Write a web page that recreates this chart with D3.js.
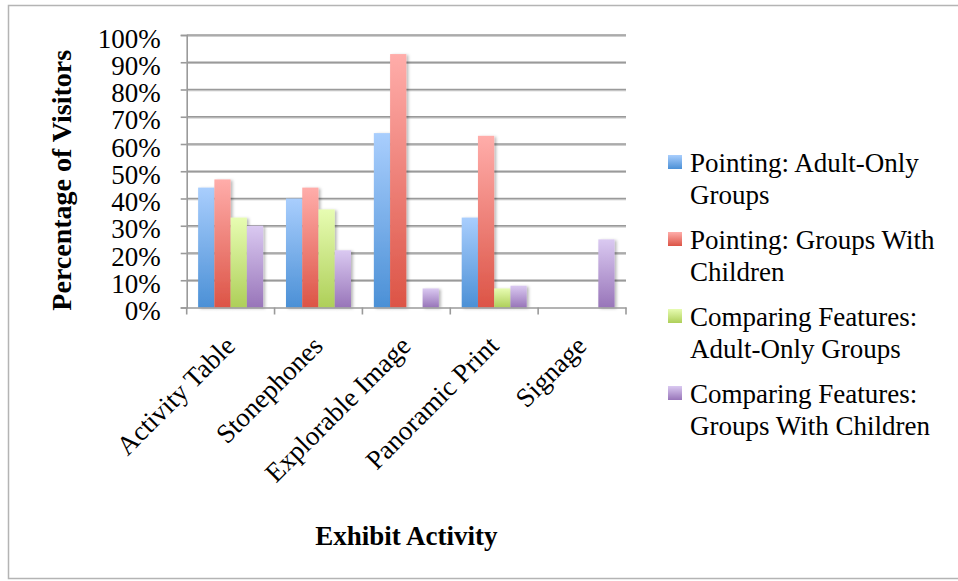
<!DOCTYPE html>
<html>
<head>
<meta charset="utf-8">
<script src="https://cdn.jsdelivr.net/npm/d3@7/dist/d3.min.js"></script>
<style>
  body { margin: 0; background: #fff; }
  svg { display: block; }
  text { font-family: "Liberation Serif", "DejaVu Serif", serif; fill: #000; }
</style>
</head>
<body>
<svg id="chart" width="958" height="581"></svg>
<script>
// Exhibit activities along the x axis
const categories = ["Activity Table", "Stonephones", "Explorable Image", "Panoramic Print", "Signage"];

// Share of visitors per activity, one array per series
const pointingAdultOnly   = [0.44, 0.40, 0.64, 0.33, 0];
const pointingWithKids    = [0.47, 0.44, 0.93, 0.63, 0];
const comparingAdultOnly  = [0.33, 0.36, 0,    0.07, 0];
const comparingWithKids   = [0.30, 0.21, 0.07, 0.08, 0.25];

// Legend entries (each wrapped onto two lines)
const seriesLabels = [
  ["Pointing: Adult-Only", "Groups"],
  ["Pointing: Groups With", "Children"],
  ["Comparing Features:", "Adult-Only Groups"],
  ["Comparing Features:", "Groups With Children"]
];

// Top and bottom colours of each series' gradient
const seriesTop    = ["#a9cefd", "#ffadaa", "#e7fcb2", "#dac9f1"];
const seriesBottom = ["#4b90d6", "#dc5446", "#aecf59", "#9875b9"];

const yTicks = [0, 0.1, 0.2, 0.3, 0.4, 0.5, 0.6, 0.7, 0.8, 0.9, 1.0];

const yTitle = "Percentage of Visitors";
const xTitle = "Exhibit Activity";

const series = [pointingAdultOnly, pointingWithKids, comparingAdultOnly, comparingWithKids];

const svg = d3.select("#chart");
const plot = { left: 186.7, right: 626, top: 35, bottom: 307.5 };

const x = d3.scaleBand().domain(categories).range([plot.left, plot.right]);
const x1 = d3.scaleBand().domain(d3.range(series.length))
  .range([x.bandwidth() * 0.13, x.bandwidth() * 0.87]);
const y = d3.scaleLinear().domain([0, 1]).range([plot.bottom, plot.top]);

const defs = svg.append("defs");
series.forEach((_, i) => {
  const g = defs.append("linearGradient")
    .attr("id", "grad" + i).attr("x1", 0).attr("y1", 0).attr("x2", 0).attr("y2", 1);
  g.append("stop").attr("offset", "0%").attr("stop-color", seriesTop[i]);
  g.append("stop").attr("offset", "100%").attr("stop-color", seriesBottom[i]);
});
const shadow = defs.append("filter").attr("id", "shadow")
  .attr("x", "-20%").attr("y", "-10%").attr("width", "160%").attr("height", "130%");
shadow.append("feDropShadow").attr("dx", 2).attr("dy", 1)
  .attr("stdDeviation", 1.8).attr("flood-color", "#000").attr("flood-opacity", 0.28);
const lineShadow = defs.append("filter").attr("id", "lineShadow")
  .attr("x", "-5%").attr("y", "-200%").attr("width", "110%").attr("height", "500%");
lineShadow.append("feDropShadow").attr("dx", 0).attr("dy", 1)
  .attr("stdDeviation", 0.6).attr("flood-color", "#000").attr("flood-opacity", 0.25);

// Outer frame
svg.append("rect")
  .attr("x", 8.5).attr("y", 5.5).attr("width", 960).attr("height", 573)
  .attr("fill", "none").attr("stroke", "#b4b4b4").attr("stroke-width", 1.5);

// Horizontal gridlines
svg.append("g").attr("filter", "url(#lineShadow)")
  .selectAll("line").data(yTicks.slice(1)).join("line")
  .attr("x1", plot.left).attr("x2", plot.right)
  .attr("y1", d => y(d)).attr("y2", d => y(d))
  .attr("stroke", "#9a9a9a").attr("stroke-width", 1.6);

// Y axis
const yAxis = svg.append("g").attr("transform", `translate(${plot.left},0)`)
  .call(d3.axisLeft(y).tickValues(yTicks).tickFormat(d3.format(".0%"))
    .tickSize(6).tickPadding(20));
yAxis.select(".domain").attr("stroke", "#9a9a9a").attr("stroke-width", 1.6);
yAxis.selectAll(".tick line").attr("stroke", "#9a9a9a").attr("stroke-width", 1.6);
yAxis.selectAll(".tick text")
  .attr("dy", "12px").attr("font-size", 27).attr("font-family", null).attr("fill", "#000");

// Bars
const groups = svg.append("g").selectAll("g").data(categories).join("g")
  .attr("transform", d => `translate(${x(d)},0)`);
groups.selectAll("rect")
  .data((c, ci) => series.map((s, si) => ({ si, v: s[ci] })).filter(d => d.v > 0))
  .join("rect")
  .attr("x", d => x1(d.si))
  .attr("width", x1.bandwidth())
  .attr("y", d => y(d.v))
  .attr("height", d => y(0) - y(d.v))
  .attr("fill", d => `url(#grad${d.si})`)
  .attr("filter", "url(#shadow)");

// X axis
const xAxis = svg.append("g").attr("transform", `translate(0,${plot.bottom})`)
  .call(d3.axisBottom(x).tickSize(0).tickFormat(""));
xAxis.select(".domain").attr("stroke", "#9a9a9a").attr("stroke-width", 1.6);
xAxis.selectAll(".tick").remove();
const bounds = categories.map(c => x(c)).concat([plot.right]);
xAxis.selectAll("line.bound").data(bounds).join("line").attr("class", "bound")
  .attr("x1", d => d).attr("x2", d => d).attr("y1", 0).attr("y2", 7)
  .attr("stroke", "#9a9a9a").attr("stroke-width", 1.6);

// Rotated category labels
svg.append("g").selectAll("text").data(categories).join("text")
  .attr("transform", d => `translate(${x(d) + x.bandwidth() / 2 + 6},${plot.bottom + 40}) rotate(-45)`)
  .attr("text-anchor", "end")
  .attr("font-size", 27)
  .text(d => d);

// Axis titles
svg.append("text")
  .attr("transform", `translate(71,${(plot.top + plot.bottom) / 2 + 9}) rotate(-90)`)
  .attr("text-anchor", "middle").attr("font-size", 28).attr("font-weight", "bold")
  .text(yTitle);
svg.append("text")
  .attr("x", (plot.left + plot.right) / 2).attr("y", 545)
  .attr("text-anchor", "middle").attr("font-size", 27).attr("font-weight", "bold")
  .text(xTitle);

// Legend
const legend = svg.append("g").attr("transform", "translate(668,172)");
const item = legend.selectAll("g").data(seriesLabels).join("g")
  .attr("transform", (d, i) => `translate(0,${i * 77})`);
item.append("rect")
  .attr("x", 0).attr("y", -17).attr("width", 14).attr("height", 14)
  .attr("fill", (d, i) => `url(#grad${i})`);
item.append("text")
  .attr("x", 22).attr("font-size", 27)
  .selectAll("tspan").data(d => d).join("tspan")
  .attr("x", 22).attr("dy", (d, j) => j === 0 ? 0 : 32)
  .text(d => d);
</script>
</body>
</html>
